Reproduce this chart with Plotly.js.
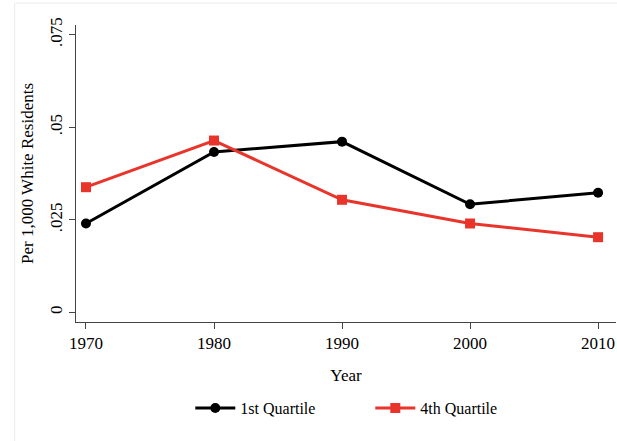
<!DOCTYPE html>
<html>
<head>
<meta charset="utf-8">
<script src="https://cdn.plot.ly/plotly-3.0.1.min.js"></script>
<style>
  body { margin: 0; background: #fff; }
  #chart { width: 617px; height: 441px; }
</style>
</head>
<body>
<div id="chart"></div>
<script>
// decades on the x axis
const years = [1970, 1980, 1990, 2000, 2010];

// rate per 1,000 white residents
const firstQuartile = [0.0240, 0.0433, 0.0461, 0.0292, 0.0323];
const fourthQuartile = [0.0338, 0.0464, 0.0304, 0.0240, 0.0203];

const yTickVals = [0, 0.025, 0.05, 0.075];
const yTickText = ['0', '.025', '.05', '.075'];

const serif = 'Liberation Serif, Times New Roman, serif';
const red = '#e8342a';

const traces = [
  {
    x: years, y: firstQuartile, name: '1st Quartile',
    type: 'scatter', mode: 'lines+markers',
    line: {color: '#000000', width: 3},
    marker: {symbol: 'circle', size: 10, color: '#000000'}
  },
  {
    x: years, y: fourthQuartile, name: '4th Quartile',
    type: 'scatter', mode: 'lines+markers',
    line: {color: red, width: 3},
    marker: {symbol: 'square', size: 10, color: red}
  }
];

const layout = {
  width: 617, height: 441,
  margin: {l: 76, r: 1, t: 25, b: 119},
  paper_bgcolor: '#ffffff',
  plot_bgcolor: '#ffffff',
  font: {family: serif, size: 17, color: '#000'},
  showlegend: true,
  xaxis: {
    range: [1969.22, 2011.4],
    tickvals: years,
    ticks: 'outside', ticklen: 6, tickcolor: '#444', tickwidth: 1,
    showgrid: false, zeroline: false,
    showline: true, linecolor: '#444', linewidth: 1,
    tickfont: {family: serif, size: 17},
    title: {text: 'Year', font: {family: serif, size: 17}, standoff: 16}
  },
  yaxis: {
    range: [-0.0026, 0.0776],
    tickvals: yTickVals, ticktext: yTickText, tickangle: -90,
    ticks: 'outside', ticklen: 6, tickcolor: '#444', tickwidth: 1,
    showgrid: false, zeroline: false,
    showline: true, linecolor: '#444', linewidth: 1,
    tickfont: {family: serif, size: 17},
    title: {text: 'Per 1,000 White Residents', font: {family: serif, size: 17}, standoff: 9}
  },
  legend: {
    orientation: 'h', x: 0.545, xanchor: 'center',
    y: -0.29, yanchor: 'middle',
    font: {family: serif, size: 16},
    itemwidth: 40,
    entrywidth: 125, entrywidthmode: 'pixels'
  },
  // faint outer frame of the graph region
  shapes: [{
    type: 'rect', xref: 'paper', yref: 'paper',
    x0: -0.1136, x1: 1.2, y0: -0.6, y1: 1.074,
    line: {color: '#ececec', width: 1}
  }]
};

Plotly.newPlot('chart', traces, layout, {displayModeBar: false, staticPlot: true});
</script>
</body>
</html>
